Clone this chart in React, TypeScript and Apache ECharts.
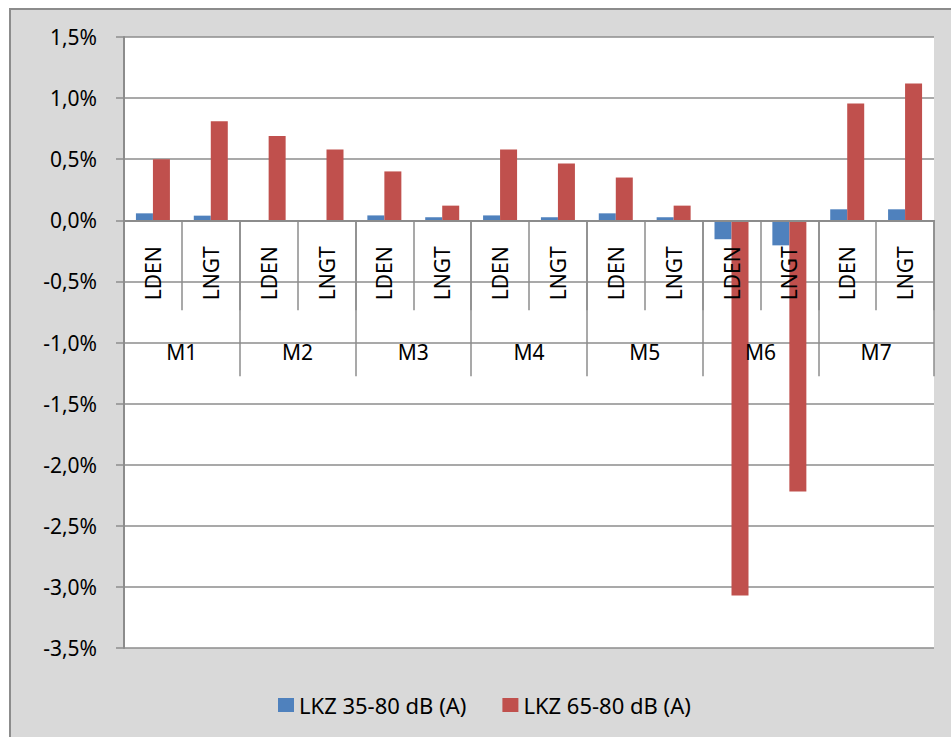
import React, { useEffect, useRef } from "react";
import * as echarts from "echarts";

const measures = ["LDEN", "LNGT", "LDEN", "LNGT", "LDEN", "LNGT", "LDEN", "LNGT", "LDEN", "LNGT", "LDEN", "LNGT", "LDEN", "LNGT"];
const groups = ["M1", "M2", "M3", "M4", "M5", "M6", "M7"];
const seriesNames = ["LKZ 35-80 dB (A)", "LKZ 65-80 dB (A)"];
const lkz35 = [0.057, 0.038, -0.005, -0.005, 0.04, 0.025, 0.04, 0.025, 0.057, 0.025, -0.155, -0.205, 0.09, 0.09];
const lkz65 = [0.5, 0.81, 0.69, 0.58, 0.4, 0.12, 0.58, 0.465, 0.35, 0.12, -3.07, -2.22, 0.955, 1.12];
const yTicks = { min: -3.5, max: 1.5, step: 0.5 };

const FONT = "Noto Sans";
const GRAY = "#8C8C8C";

export default function App() {
  const ref = useRef<HTMLDivElement>(null);
  useEffect(() => {
    if (!ref.current) return;
    const chart = echarts.init(ref.current, null, { renderer: "svg" });
    const H = 737;
    const top = 37;
    const bottom = 89;
    const plotH = H - top - bottom;
    // pixel position of the zero line, derived from the value axis range
    const zeroY = top + (plotH * (yTicks.max - 0)) / (yTicks.max - yTicks.min);
    chart.setOption({
      animation: false,
      backgroundColor: "#ffffff",
      color: ["#4F81BD", "#C0504D"],
      graphic: [
        {
          type: "rect",
          z: -10,
          shape: { x: 10, y: 9, width: 980, height: 780 },
          style: { fill: "#D9D9D9", stroke: GRAY, lineWidth: 2 },
        },
      ],
      grid: [
        {
          left: 124,
          right: 17,
          top,
          bottom,
          show: true,
          backgroundColor: "#ffffff",
          borderWidth: 0,
          outerBoundsMode: "none",
          containLabel: false,
        },
        {
          left: 124,
          right: 17,
          top,
          bottom: H - zeroY,
          show: false,
          outerBoundsMode: "none",
          containLabel: false,
        },
      ],
      legend: {
        data: seriesNames,
        left: 273,
        top: 689,
        icon: "rect",
        itemWidth: 16,
        itemHeight: 14,
        itemGap: 36,
        textStyle: { fontFamily: FONT, fontSize: 22, color: "#000" },
      },
      xAxis: [
        {
          type: "category",
          gridIndex: 0,
          data: measures,
          axisLine: { show: false },
          axisTick: { show: false },
          axisLabel: { show: false },
          splitLine: { show: false },
        },
        {
          type: "category",
          gridIndex: 1,
          data: measures,
          position: "bottom",
          z: 10,
          axisLine: { show: true, onZero: false, lineStyle: { color: GRAY, width: 2 } },
          axisTick: { show: true, interval: 0, length: 90, lineStyle: { color: GRAY, width: 1.5 } },
          axisLabel: {
            interval: 0,
            rotate: 90,
            margin: 26,
            fontFamily: FONT,
            fontSize: 21,
            color: "#000",
          },
          splitLine: { show: false },
        },
        {
          type: "category",
          gridIndex: 1,
          data: groups,
          position: "bottom",
          z: 10,
          axisLine: { show: false, onZero: false },
          axisTick: { show: true, interval: 0, length: 156, lineStyle: { color: GRAY, width: 1.5 } },
          axisLabel: {
            interval: 0,
            margin: 121,
            fontFamily: FONT,
            fontSize: 21,
            color: "#000",
          },
          splitLine: { show: false },
        },
      ],
      yAxis: [
        {
          type: "value",
          gridIndex: 0,
          min: yTicks.min,
          max: yTicks.max,
          interval: yTicks.step,
          axisLine: { show: true, lineStyle: { color: GRAY, width: 2 } },
          axisTick: { show: true, length: 8, lineStyle: { color: GRAY, width: 1.5 } },
          axisLabel: {
            margin: 27,
            fontFamily: FONT,
            fontSize: 21,
            color: "#000",
            formatter: (v: number) => v.toFixed(1).replace(".", ",") + "%",
          },
          splitLine: { show: true, lineStyle: { color: GRAY, width: 1.5 } },
        },
        {
          type: "value",
          gridIndex: 1,
          min: 0,
          max: 1,
          show: false,
          splitLine: { show: false },
        },
      ],
      series: [
        {
          name: seriesNames[0],
          type: "bar",
          xAxisIndex: 0,
          yAxisIndex: 0,
          data: lkz35,
          barWidth: 17,
          barGap: "0%",
        },
        {
          name: seriesNames[1],
          type: "bar",
          xAxisIndex: 0,
          yAxisIndex: 0,
          data: lkz65,
          barWidth: 17,
          barGap: "0%",
        },
      ],
    });
    return () => chart.dispose();
  }, []);
  return (
    <div
      ref={ref}
      style={{ position: "fixed", left: 0, top: 0, width: 951, height: 737 }}
    />
  );
}
